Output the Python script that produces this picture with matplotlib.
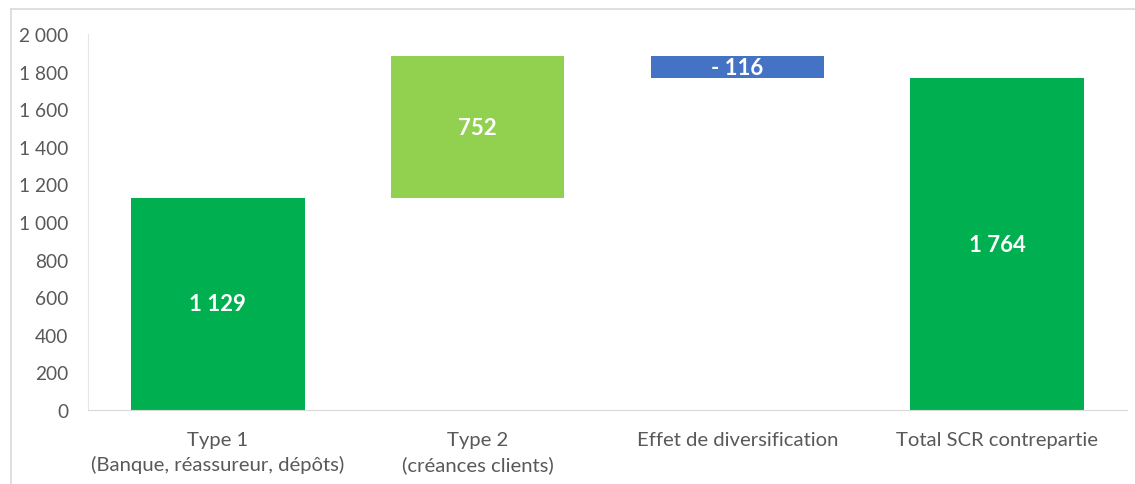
import matplotlib.pyplot as plt
from matplotlib.lines import Line2D

# Waterfall data: SCR contrepartie
categories = ["Type 1\n(Banque, réassureur, dépôts)", "Type 2\n(créances clients)",
              "Effet de diversification", "Total SCR contrepartie"]
deltas = [1129, 752, -116]
total = 1764
yticks = [0, 200, 400, 600, 800, 1000, 1200, 1400, 1600, 1800, 2000]

colors = ["#00B050", "#92D050", "#4472C4", "#00B050"]


def fmt(v):
    s = f"{abs(v):,}".replace(",", " ")
    return f"- {s}" if v < 0 else s


# Bar bottoms / heights for the floating bars
bottoms, heights = [], []
running = 0
for d in deltas:
    if d >= 0:
        bottoms.append(running)
        heights.append(d)
    else:
        bottoms.append(running + d)
        heights.append(-d)
    running += d
bottoms.append(0)
heights.append(total)
labels = deltas + [total]

plt.rcParams['font.family'] = ['Lato', 'DejaVu Sans']

fig = plt.figure(figsize=(11.35, 4.85), dpi=100)
ax = fig.add_axes([88 / 1135, 1 - 411 / 485, 1039 / 1135, 376 / 485])

x = range(len(categories))
ax.bar(x, heights, bottom=bottoms, width=0.667, color=colors)

for i, (b, h, v) in enumerate(zip(bottoms, heights, labels)):
    ax.text(i, b + h / 2, fmt(v), ha='center', va='center', color='white',
            fontsize=16, fontweight='bold')

ax.set_xlim(-0.5, len(categories) - 0.5)
ax.set_ylim(0, 2000)
ax.set_yticks(yticks)
ax.set_yticklabels([fmt(t) for t in yticks])
ax.set_xticks(list(x))
ax.set_xticklabels(categories, linespacing=1.5)
ax.tick_params(axis='both', length=0, colors='#595959')
ax.tick_params(axis='y', pad=14, labelsize=13.8)
ax.tick_params(axis='x', pad=15, labelsize=14.6)

for side in ['top', 'right']:
    ax.spines[side].set_visible(False)
ax.spines['left'].set_color('#E6E6E6')
ax.spines['bottom'].set_color('#D9D9D9')

# Chart area border (top and left visible)
fig.add_artist(Line2D([11 / 1135, 1], [1 - 10 / 485, 1 - 10 / 485], color='#D9D9D9', lw=1.2))
fig.add_artist(Line2D([11 / 1135, 11 / 1135], [0, 1 - 10 / 485], color='#D9D9D9', lw=1.2))

fig.savefig("out.png", dpi=100)
